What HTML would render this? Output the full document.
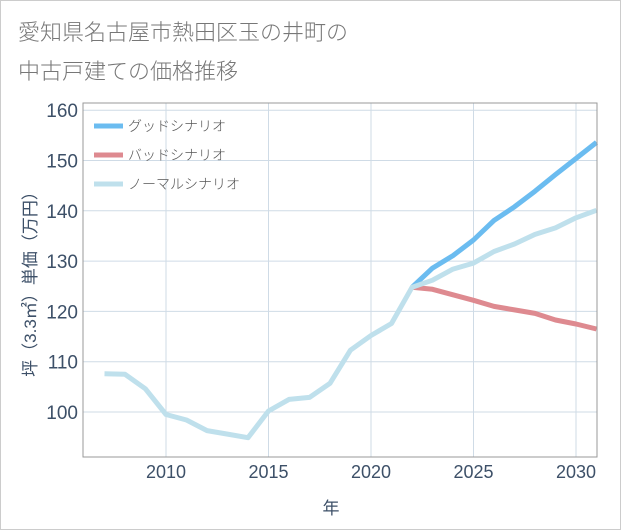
<!DOCTYPE html>
<html><head><meta charset="utf-8"><style>
body{margin:0;background:#fff;}
svg{display:block;font-family:"Liberation Sans","Noto Sans CJK JP",sans-serif;}
</style></head><body>
<svg id="chart" width="621" height="530">
<rect x="0.5" y="0.5" width="620" height="529" fill="#fff" stroke="#ccc"/>
<text x="18" y="40" font-size="22" font-weight="300" fill="#777">愛知県名古屋市熱田区玉の井町の</text>
<text x="18" y="79" font-size="22" font-weight="300" fill="#777">中古戸建ての価格推移</text>
<g id="grid"></g>
<g id="lines"></g>
<g id="axes"></g>
<text x="331" y="514" font-size="17" fill="#3d5068" text-anchor="middle">年</text>
<text transform="translate(36,280) rotate(-90)" font-size="17" fill="#3d5068" text-anchor="middle">坪（3.3㎡）単価（万円）</text>
<g id="legend"></g>
</svg>
<script>
const years=[2007,2008,2009,2010,2011,2012,2013,2014,2015,2016,2017,2018,2019,2020,2021,2022,2023,2024,2025,2026,2027,2028,2029,2030,2031];
const normal=[107.6,107.5,104.6,99.5,98.4,96.3,95.6,94.9,100.2,102.5,102.9,105.7,112.3,115.2,117.6,124.8,126.2,128.4,129.6,131.9,133.4,135.3,136.6,138.6,140.1];
const futureYears=[2022,2023,2024,2025,2026,2027,2028,2029,2030,2031];
const good=[124.8,128.6,131.1,134.2,138.1,140.8,143.9,147.2,150.4,153.6];
const bad=[124.8,124.4,123.3,122.2,121.0,120.3,119.6,118.3,117.5,116.5];
const yTicks=[100,110,120,130,140,150,160];
const xTicks=[2010,2015,2020,2025,2030];
const L=83,R=597,T=103,B=457;
const x=v=>166+(v-2010)*20.5;
const y=v=>412-(v-100)*5.03;
const NS="http://www.w3.org/2000/svg";
function mk(tag,parent,attrs){const e=document.createElementNS(NS,tag);for(const k in attrs)e.setAttribute(k,attrs[k]);parent.appendChild(e);return e;}
const grid=document.getElementById('grid'),axes=document.getElementById('axes'),lines=document.getElementById('lines'),legend=document.getElementById('legend');
yTicks.forEach(v=>{
 const g=mk('line',grid,{x1:L,x2:R,y1:y(v),y2:y(v),stroke:'#cfdbe6','stroke-width':1});
 
 
 const t=mk('text',axes,{x:L-5,y:y(v)+7,'font-size':19,fill:'#3d5068','text-anchor':'end'});
 t.textContent=v;
 
 
});
xTicks.forEach(v=>{
 const g=mk('line',grid,{x1:x(v),x2:x(v),y1:T,y2:B,stroke:'#cfdbe6','stroke-width':1});
 
 
 const t=mk('text',axes,{x:x(v),y:B+21,'font-size':18,fill:'#3d5068','text-anchor':'middle'});
 t.textContent=v;
 
 
});
const frame=mk('rect',axes,{x:L,y:T,width:R-L,height:B-T,fill:'none',stroke:'#999','stroke-width':1});


function path(xs,vs){return xs.map((v,i)=>(i?'L':'M')+x(v).toFixed(1)+','+y(vs[i]).toFixed(1)).join('');}
const pg=mk('path',lines,{d:path(futureYears,good),fill:'none',stroke:'#6bbcf0','stroke-width':5,'stroke-linejoin':'round'});


const pb=mk('path',lines,{d:path(futureYears,bad),fill:'none',stroke:'#de8a90','stroke-width':5,'stroke-linejoin':'round'});


const pn=mk('path',lines,{d:path(years,normal),fill:'none',stroke:'#bfe0ec','stroke-width':5,'stroke-linejoin':'round'});


const leg=[['グッドシナリオ','#6bbcf0','legend-good'],['バッドシナリオ','#de8a90','legend-bad'],['ノーマルシナリオ','#bfe0ec','legend-normal']];
leg.forEach((l,i)=>{
 const yy=126+i*29;
 const g=mk('g',legend,{});
 
 
 mk('line',g,{x1:94,x2:123,y1:yy,y2:yy,stroke:l[1],'stroke-width':5});
 const t=mk('text',g,{x:128,y:yy+5,'font-size':14,'font-weight':300,fill:'#555'});
 t.textContent=l[0];
});
</script>
</body></html>
